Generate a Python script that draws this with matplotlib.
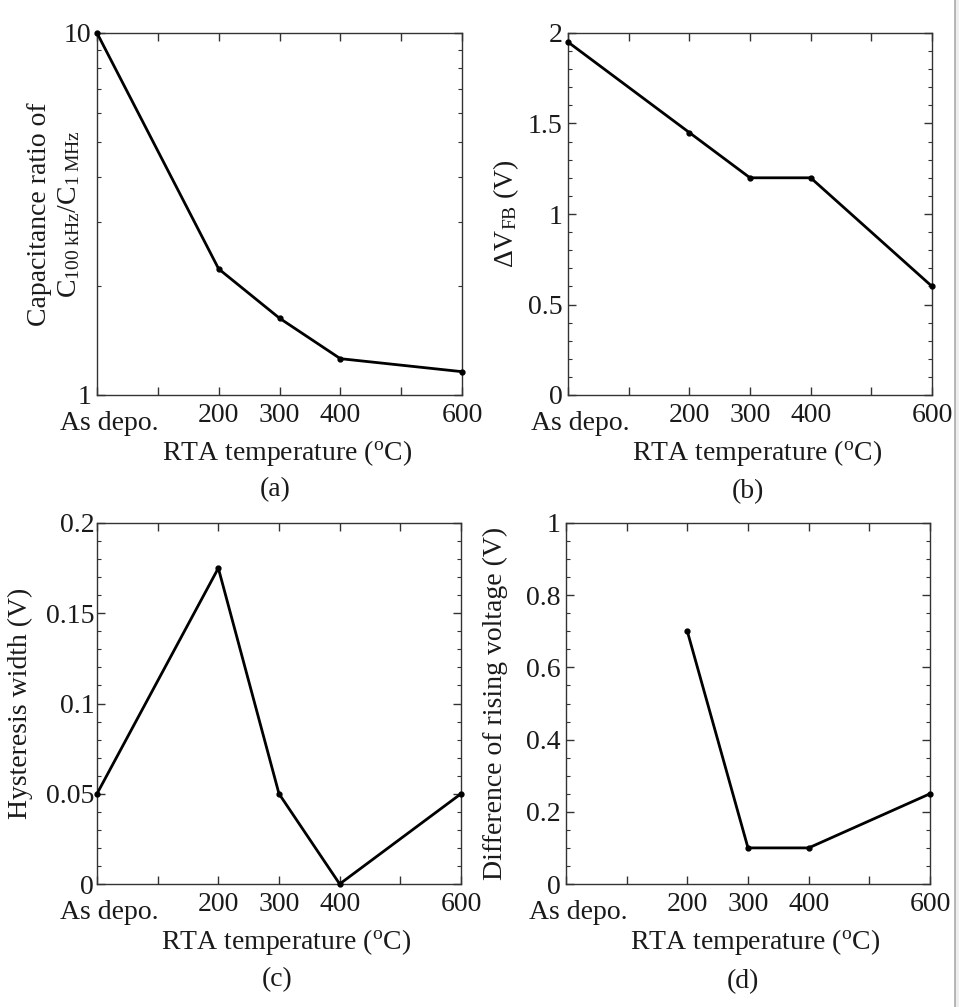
import matplotlib.pyplot as plt
from matplotlib.ticker import MultipleLocator, FixedLocator, NullFormatter, LogLocator
from matplotlib.transforms import ScaledTranslation
from matplotlib.lines import Line2D
from matplotlib.patches import Rectangle

plt.rcParams['font.family'] = ['Liberation Serif', 'DejaVu Serif']
plt.rcParams['mathtext.fontset'] = 'custom'
plt.rcParams['mathtext.rm'] = 'Liberation Serif'
plt.rcParams['mathtext.it'] = 'Liberation Serif:italic'

# RTA temperatures (As depo. plotted at 0)
temps = [0, 200, 300, 400, 600]
temps_d = [200, 300, 400, 600]
xtick_pos = [0, 100, 200, 300, 400, 500, 600]
xtick_labels = ['As depo.', '', '200', '300', '400', '', '600']

cap_ratio = [10.0, 2.23, 1.63, 1.26, 1.16]
delta_vfb = [1.95, 1.45, 1.2, 1.2, 0.6]
hyst_width = [0.05, 0.175, 0.05, 0.0, 0.05]
rising_diff = [0.7, 0.1, 0.1, 0.25]

W, H = 959, 1007
fig = plt.figure(figsize=(W / 100, H / 100), dpi=100)
fs = 20
txt = '#1a1a1a'

# page edge on the right
fig.patches.append(Rectangle((955 / W, 0), 4 / W, 1, transform=fig.transFigure,
                             facecolor='#eeeeee', edgecolor='none'))
fig.lines.append(Line2D([955 / W, 955 / W], [0, 1], transform=fig.transFigure,
                        color='#aaaaaa', lw=1.2))


def make_ax(l, r, t, b):
    ax = fig.add_axes([l / W, 1 - b / H, (r - l) / W, (b - t) / H])
    for s in ax.spines.values():
        s.set_color('#333333')
        s.set_linewidth(1.0)
    ax.tick_params(which='both', direction='in', top=True, right=True,
                   colors='#333333', labelcolor=txt, labelsize=fs)
    ax.tick_params(which='major', length=6, width=1.0)
    ax.tick_params(which='minor', length=3, width=0.8)
    ax.tick_params(axis='y', pad=4)
    ax.tick_params(axis='x', pad=6)
    ax.set_xlim(0, 600)
    ax.xaxis.set_major_locator(FixedLocator(xtick_pos))
    ax.set_xticklabels(xtick_labels)
    lab = ax.get_xticklabels()[0]
    lab.set_transform(lab.get_transform() + ScaledTranslation(0.12, -0.08, fig.dpi_scale_trans))
    ax.set_xlabel('RTA temperature ($^{\\rm o}$C)', fontsize=fs, color=txt)
    ax.xaxis.set_label_coords(0.52, -0.12)
    return ax


def set_yticks(ax, ticks, labels, minor):
    ax.yaxis.set_major_locator(FixedLocator(ticks))
    ax.set_yticklabels(labels)
    ax.yaxis.set_minor_locator(MultipleLocator(minor))


def draw(ax, x, y):
    ax.plot(x, y, color='black', lw=2.0, marker='o', ms=3.5, clip_on=False, zorder=3)


# (a) capacitance ratio, log scale
ax1 = make_ax(97, 462, 33, 395)
draw(ax1, temps, cap_ratio)
ax1.set_yscale('log')
ax1.set_ylim(1, 10)
ax1.yaxis.set_major_locator(FixedLocator([1, 10]))
ax1.set_yticklabels(['1', '10'])
ax1.yaxis.set_minor_locator(LogLocator(base=10, subs=range(2, 10)))
ax1.yaxis.set_minor_formatter(NullFormatter())
ax1.set_ylabel('Capacitance ratio of\n$\\rm C_{100\\ kHz}/C_{1\\ MHz}$', fontsize=fs,
               color=txt, linespacing=1.25)
ax1.yaxis.set_label_coords(-0.04, 0.5)
fig.text(275 / W, 1 - 490 / H, '(a)', fontsize=fs, color=txt, ha='center', va='center')

# (b) flat-band voltage shift
ax2 = make_ax(568, 932, 33, 395)
draw(ax2, temps, delta_vfb)
ax2.set_ylim(0, 2)
set_yticks(ax2, [0, 0.5, 1, 1.5, 2], ['0', '0.5', '1', '1.5', '2'], 0.1)
ax2.set_ylabel('$\\Delta$V$_{\\rm FB}$ (V)', fontsize=fs, color=txt)
ax2.yaxis.set_label_coords(-0.13, 0.5)
fig.text(748 / W, 1 - 492 / H, '(b)', fontsize=fs, color=txt, ha='center', va='center')

# (c) hysteresis width
ax3 = make_ax(97, 461, 523, 884)
draw(ax3, temps, hyst_width)
ax3.set_ylim(0, 0.2)
set_yticks(ax3, [0, 0.05, 0.1, 0.15, 0.2], ['0', '0.05', '0.1', '0.15', '0.2'], 0.01)
ax3.tick_params(axis='y', pad=2)
ax3.set_ylabel('Hysteresis width (V)', fontsize=fs, color=txt)
ax3.yaxis.set_label_coords(-0.175, 0.5)
fig.text(277 / W, 1 - 980 / H, '(c)', fontsize=fs, color=txt, ha='center', va='center')

# (d) difference of rising voltage
ax4 = make_ax(566, 930, 523, 884)
draw(ax4, temps_d, rising_diff)
ax4.set_ylim(0, 1)
set_yticks(ax4, [0, 0.2, 0.4, 0.6, 0.8, 1], ['0', '0.2', '0.4', '0.6', '0.8', '1'], 0.05)
ax4.set_ylabel('Difference of rising voltage (V)', fontsize=fs, color=txt)
ax4.yaxis.set_label_coords(-0.16, 0.5)
fig.text(743 / W, 1 - 982 / H, '(d)', fontsize=fs, color=txt, ha='center', va='center')

fig.savefig('out.png', dpi=100)
